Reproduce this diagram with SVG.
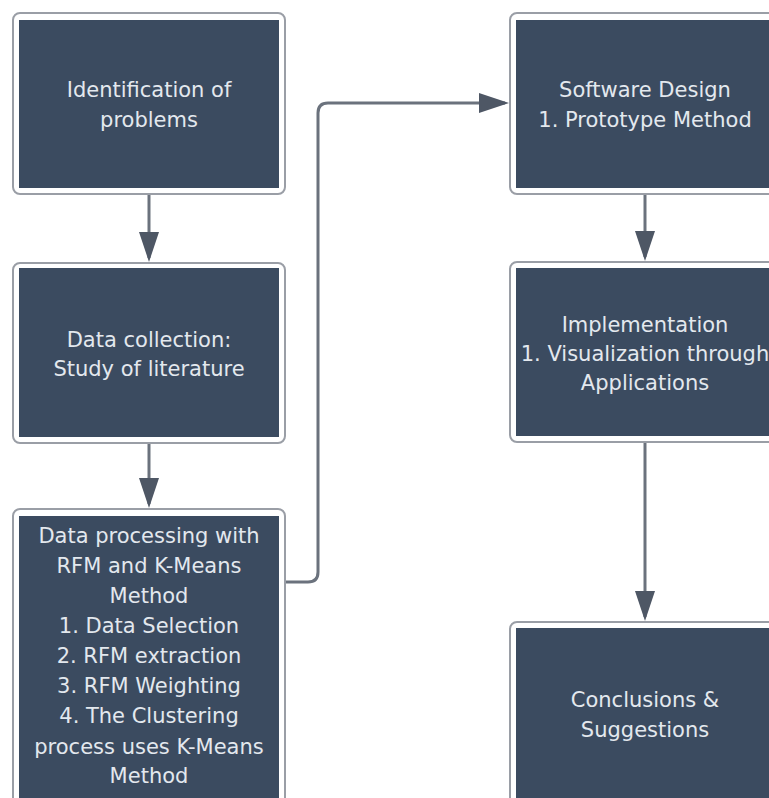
<svg xmlns="http://www.w3.org/2000/svg" width="769" height="798" viewBox="0 0 769 798">
<style>
.outer{fill:#ffffff;stroke:#9a9ea6;stroke-width:2}
.inner{fill:#3b4b60}
.t{font-family:"DejaVu Sans","Liberation Sans",sans-serif;font-size:21px;fill:#e3e8ee;text-anchor:middle}
.c{fill:none;stroke:#6b727d;stroke-width:3}
</style>
<defs>
<marker id="ah" markerUnits="userSpaceOnUse" markerWidth="30" markerHeight="20" refX="26" refY="10" orient="auto">
<path d="M0,0 L30,10 L0,20 z" fill="#4e5765"/>
</marker>
</defs>
<rect width="769" height="798" fill="#ffffff"/>
<g id="connectors">
<path class="c" d="M149 195 V258" marker-end="url(#ah)"/>
<path class="c" d="M149 444 V504" marker-end="url(#ah)"/>
<path class="c" d="M645 195 V257" marker-end="url(#ah)"/>
<path class="c" d="M645 443 V617" marker-end="url(#ah)"/>
<path class="c" d="M286 582 H308 Q318 582 318 572 V113 Q318 103 328 103 H505" marker-end="url(#ah)"/>
</g>
<g id="n1">
<rect class="outer" x="13" y="13" width="272" height="181" rx="7"/>
<rect class="inner" x="19" y="20" width="260" height="168"/>
<text class="t" x="149" y="97">Identification of</text>
<text class="t" x="149" y="127">problems</text>
</g>
<g id="n2">
<rect class="outer" x="13" y="263" width="272" height="180" rx="7"/>
<rect class="inner" x="19" y="268" width="260" height="169"/>
<text class="t" x="149" y="347">Data collection:</text>
<text class="t" x="149" y="376">Study of literature</text>
</g>
<g id="n3">
<rect class="outer" x="13" y="509" width="272" height="300" rx="7"/>
<rect class="inner" x="19" y="516" width="260" height="290"/>
<text class="t" x="149" y="543">Data processing with</text>
<text class="t" x="149" y="573">RFM and K-Means</text>
<text class="t" x="149" y="603">Method</text>
<text class="t" x="149" y="633">1. Data Selection</text>
<text class="t" x="149" y="663">2. RFM extraction</text>
<text class="t" x="149" y="693">3. RFM Weighting</text>
<text class="t" x="149" y="723">4. The Clustering</text>
<text class="t" x="149" y="754">process uses K-Means</text>
<text class="t" x="149" y="783">Method</text>
</g>
<g id="n4">
<rect class="outer" x="510" y="13" width="272" height="181" rx="7"/>
<rect class="inner" x="516" y="20" width="260" height="168"/>
<text class="t" x="645" y="97">Software Design</text>
<text class="t" x="645" y="127">1. Prototype Method</text>
</g>
<g id="n5">
<rect class="outer" x="510" y="262" width="272" height="180" rx="7"/>
<rect class="inner" x="516" y="268" width="260" height="168"/>
<text class="t" x="645" y="332">Implementation</text>
<text class="t" x="645" y="361">1. Visualization through</text>
<text class="t" x="645" y="390">Applications</text>
</g>
<g id="n6">
<rect class="outer" x="510" y="622" width="272" height="190" rx="7"/>
<rect class="inner" x="516" y="628" width="260" height="180"/>
<text class="t" x="645" y="707">Conclusions &amp;</text>
<text class="t" x="645" y="737">Suggestions</text>
</g>
</svg>
